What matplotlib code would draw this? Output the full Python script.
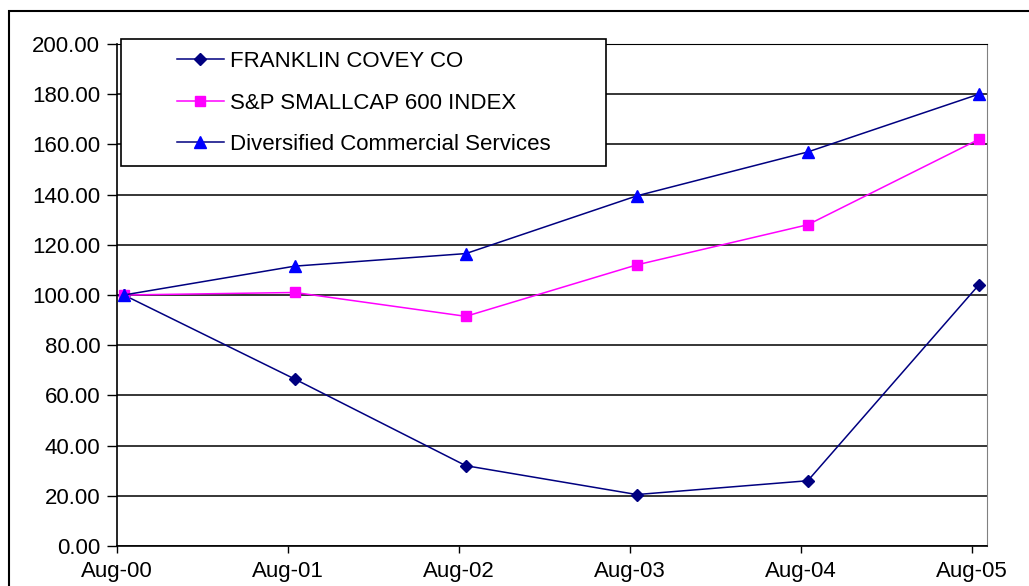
import numpy as np
import matplotlib
matplotlib.use('Agg')
import matplotlib.pyplot as plt
from matplotlib.patches import Rectangle

plt.rcParams['font.family'] = ['Liberation Sans', 'DejaVu Sans']

# Data
periods = ['Aug-00', 'Aug-01', 'Aug-02', 'Aug-03', 'Aug-04', 'Aug-05']
franklin = [100.0, 66.5, 32.0, 20.5, 26.0, 104.0]
smallcap = [100.0, 101.0, 91.5, 112.0, 128.0, 162.0]
diversified = [100.0, 111.5, 116.5, 139.5, 157.0, 180.0]
series_names = ['FRANKLIN COVEY CO', 'S&P SMALLCAP 600 INDEX',
                'Diversified Commercial Services']

W, H = 1029, 586
fig = plt.figure(figsize=(W / 100, H / 100), dpi=100)
ax = fig.add_axes([117 / W, 1 - 546 / H, (987 - 117) / W, (546 - 44) / H])

# points sit a little after the tick (date axis)
ticks = np.arange(len(periods))
x = ticks + 0.04

l1, = ax.plot(x, franklin, color='#000080', lw=1.1, marker='D', ms=6,
              mfc='#000080', mec='#000080', zorder=3)
l2, = ax.plot(x, smallcap, color='#FF00FF', lw=1.1, marker='s', ms=7,
              mfc='#FF00FF', mec='#FF00FF', zorder=3)
l3, = ax.plot(x, diversified, color='#000080', lw=1.1, marker='^', ms=8,
              mfc='#0000FF', mec='#0000FF', zorder=3)

ax.set_xlim(0, 5.088)
ax.set_ylim(0, 200)
ax.set_yticks(np.arange(0, 201, 20))
ax.set_yticklabels([f'{v:.2f}' for v in np.arange(0, 201, 20)])
ax.set_xticks(ticks)
ax.set_xticklabels(periods)

ax.grid(axis='y', color='black', lw=1.1)
ax.set_axisbelow(True)
ax.tick_params(axis='y', direction='out', length=7, width=1, pad=5,
               labelsize=16, colors='black')
ax.tick_params(axis='x', direction='out', length=5, width=1, pad=6,
               labelsize=16, colors='black')
for s in ['left', 'bottom']:
    ax.spines[s].set_color('black')
    ax.spines[s].set_linewidth(1.2)
ax.spines['top'].set_color('black')
ax.spines['right'].set_color('#808080')

# legend box (white, square corners)
box = Rectangle((121 / W, 1 - 166 / H), (606 - 121) / W, (166 - 39) / H,
                transform=fig.transFigure, facecolor='white',
                edgecolor='black', lw=1.2, zorder=4, clip_on=False)
ax.add_patch(box)
leg = ax.legend([l1, l2, l3], series_names, loc='center left',
                bbox_to_anchor=(177 / W, 1 - 103 / H),
                bbox_transform=fig.transFigure, frameon=False,
                fontsize=16, borderpad=0, borderaxespad=0,
                handlelength=2.1, handletextpad=0.3, labelspacing=0.92)
leg.set_zorder(5)

# outer chart border
fig.patches.append(Rectangle((9 / W, -0.1), 1.2, 1 - 11 / H + 0.1,
                             transform=fig.transFigure, fill=False,
                             edgecolor='black', lw=1.5))

fig.savefig('out.png', dpi=100)
